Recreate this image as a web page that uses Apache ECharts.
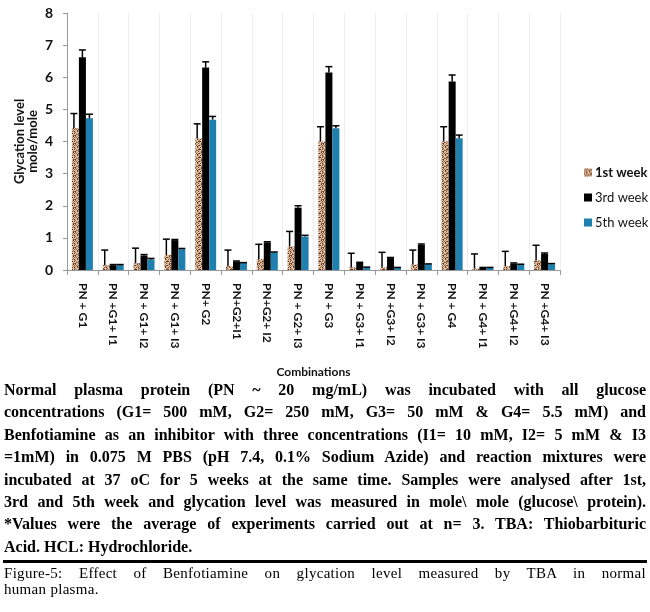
<!DOCTYPE html>
<html>
<head>
<meta charset="utf-8">
<script src="https://cdn.jsdelivr.net/npm/echarts@6/dist/echarts.min.js"></script>
<style>
  body { margin: 0; background: #fff; }
  #wrap { position: relative; width: 650px; height: 612px; overflow: hidden; }
  #chart { position: absolute; left: 0; top: 0; width: 650px; height: 612px; }
  .cap { position: absolute; left: 4px; width: 642px; font-family: "Liberation Serif", "DejaVu Serif", serif;
         color: #000; white-space: nowrap; }
  .cap div { text-align: justify; text-align-last: justify; }
  .cap div.last { text-align-last: left; }
  #notes { top: 379px; font-size: 16px; font-weight: bold; line-height: 22.4px; }
  #rule { position: absolute; left: 3px; width: 644px; top: 560px; height: 3px; background: #000; }
  #figcap { top: 565px; font-size: 15px; line-height: 16px; letter-spacing: 0.3px; }
</style>
</head>
<body>
<div id="wrap">
  <div id="chart"></div>
  <div class="cap" id="notes"></div>
  <div id="rule"></div>
  <div class="cap" id="figcap"></div>
</div>
<script>
// combinations on the x axis
const categories = [
  'PN + G1', 'PN +G1+ I1', 'PN + G1+ I2', 'PN + G1+ I3',
  'PN+ G2', 'PN+G2+I1', 'PN+G2+ I2', 'PN + G2+ I3',
  'PN + G3', 'PN + G3+ I1', 'PN +G3+ I2', 'PN + G3+ I3',
  'PN + G4', 'PN + G4+ I1', 'PN +G4+ I2', 'PN +G4+ I3'
];
const yTicks = [0, 1, 2, 3, 4, 5, 6, 7, 8];

// glycation level, mole/mole
const week1 = [4.42, 0.15, 0.21, 0.47, 4.10, 0.12, 0.34, 0.73, 4.00, 0.08, 0.08, 0.17, 4.00, 0.05, 0.12, 0.30];
const week3 = [6.62, 0.15, 0.45, 0.93, 6.30, 0.26, 0.86, 1.94, 6.15, 0.22, 0.37, 0.78, 5.87, 0.07, 0.20, 0.50];
const week5 = [4.72, 0.15, 0.33, 0.65, 4.68, 0.22, 0.54, 1.04, 4.41, 0.08, 0.07, 0.18, 4.10, 0.07, 0.17, 0.18];

// upper error bars
const err1 = [0.45, 0.47, 0.47, 0.49, 0.45, 0.50, 0.46, 0.47, 0.46, 0.44, 0.47, 0.45, 0.46, 0.45, 0.46, 0.47];
const err3 = [0.23, 0.02, 0.03, 0.02, 0.18, 0.02, 0.02, 0.06, 0.18, 0.02, 0.02, 0.03, 0.20, 0.01, 0.02, 0.03];
const err5 = [0.13, 0.02, 0.03, 0.02, 0.10, 0.01, 0.02, 0.04, 0.08, 0.01, 0.01, 0.01, 0.10, 0.01, 0.01, 0.02];

const seriesNames = ['1st week', '3rd week', '5th week'];

const noteLines = [
  'Normal plasma protein (PN ~ 20 mg/mL) was incubated with all glucose',
  'concentrations (G1= 500 mM, G2= 250 mM, G3= 50 mM & G4= 5.5 mM) and',
  'Benfotiamine as an inhibitor with three concentrations (I1= 10 mM, I2= 5 mM & I3',
  '=1mM) in 0.075 M PBS (pH 7.4, 0.1% Sodium Azide) and reaction mixtures were',
  'incubated at 37 oC for 5 weeks at the same time. Samples were analysed after 1st,',
  '3rd and 5th week and glycation level was measured in mole\\ mole (glucose\\ protein).',
  '*Values were the average of experiments carried out at n= 3. TBA: Thiobarbituric',
  'Acid. HCL: Hydrochloride.'
];
const figLines = [
  'Figure-5: Effect of Benfotiamine on glycation level measured by TBA in normal',
  'human plasma.'
];

function fillLines(id, lines) {
  const box = document.getElementById(id);
  lines.forEach((t, i) => {
    const d = document.createElement('div');
    d.textContent = t;
    if (i === lines.length - 1) d.className = 'last';
    box.appendChild(d);
  });
}
fillLines('notes', noteLines);
fillLines('figcap', figLines);

// mottled fill for the 1st week bars
function speckle() {
  const cols = ['#d6bf9c', '#7d4a2e', '#6a1f16', '#b98d66', '#e6d3c2', '#9c6a48'];
  const grid = [
    [0, 2, 4, 1, 0, 3, 4, 0],
    [3, 0, 1, 4, 5, 0, 1, 2],
    [4, 5, 0, 3, 0, 2, 0, 4],
    [1, 0, 2, 0, 4, 1, 3, 0],
    [0, 4, 3, 5, 0, 4, 0, 5],
    [2, 0, 1, 0, 3, 0, 2, 1],
    [4, 3, 0, 4, 1, 5, 0, 3],
    [0, 1, 5, 2, 0, 4, 1, 0]
  ];
  const c = document.createElement('canvas');
  c.width = 8; c.height = 8;
  const ctx = c.getContext('2d');
  grid.forEach((row, y) => row.forEach((k, x) => {
    ctx.fillStyle = cols[k];
    ctx.fillRect(x, y, 1, 1);
  }));
  return c;
}

const barW = 7;
const colors = [{ image: speckle(), repeat: 'repeat' }, '#000000', '#1f7fae'];
const values = [week1, week3, week5];
const errors = [err1, err3, err5];

function errorSeries(s) {
  return {
    type: 'custom',
    name: 'err' + s,
    z: 5,
    data: values[s].map((v, i) => [i, v, errors[s][i]]),
    renderItem: (params, api) => {
      const i = api.value(0);
      const v = api.value(1);
      const e = api.value(2);
      // 1st week whisker sits near the left of its bar
      const dx = (s - 1) * barW - (s === 0 ? 1.5 : 0);
      const p0 = api.coord([i, v]);
      const p1 = api.coord([i, v + e]);
      const x = p0[0] + dx;
      return {
        type: 'group',
        children: [
          { type: 'line', shape: { x1: x, y1: p0[1], x2: x, y2: p1[1] }, style: { stroke: '#000', lineWidth: 1.5 } },
          { type: 'line', shape: { x1: x - 3.5, y1: p1[1], x2: x + 3.5, y2: p1[1] }, style: { stroke: '#000', lineWidth: 1.5 } }
        ]
      };
    }
  };
}

const chart = echarts.init(document.getElementById('chart'));
chart.setOption({
  backgroundColor: '#fff',
  animation: false,
  grid: { left: 67, right: 90, top: 13, bottom: 342 },
  legend: {
    orient: 'vertical',
    left: 579,
    top: 161,
    itemWidth: 8,
    itemHeight: 8,
    itemGap: 12,
    icon: 'rect',
    textStyle: { fontFamily: 'Lato', fontSize: 13, color: '#111', padding: [0, 0, 0, -2] },
    data: [
      { name: seriesNames[0], textStyle: { fontWeight: 'bold' } },
      seriesNames[1],
      seriesNames[2]
    ]
  },
  xAxis: {
    type: 'category',
    data: categories,
    name: 'Combinations',
    nameLocation: 'middle',
    nameGap: 96,
    nameTextStyle: { fontFamily: 'Lato', fontWeight: 'bold', fontSize: 12, color: '#111' },
    axisLine: { lineStyle: { color: '#999' } },
    axisTick: { show: true, length: 5, lineStyle: { color: '#999' } },
    axisLabel: { rotate: -90, margin: 13, interval: 0, fontFamily: 'Lato', fontWeight: 'bold', fontSize: 12, color: '#111' },
    splitLine: { show: true, lineStyle: { color: '#eeeeee' } }
  },
  yAxis: {
    type: 'value',
    min: yTicks[0],
    max: yTicks[yTicks.length - 1],
    interval: 1,
    name: 'Glycation level\nmole/mole',
    nameLocation: 'middle',
    nameGap: 28,
    nameMoveOverlap: false,
    nameRotate: 90,
    nameTextStyle: { fontFamily: 'Lato', fontWeight: 'bold', fontSize: 13, color: '#111', lineHeight: 13 },
    axisLine: { show: true, lineStyle: { color: '#999' } },
    axisTick: { show: true, length: 4, lineStyle: { color: '#999' } },
    axisLabel: { margin: 14, fontFamily: 'Lato', fontWeight: 'bold', fontSize: 14, color: '#111' },
    splitLine: { show: false }
  },
  series: [
    ...seriesNames.map((n, s) => ({
      type: 'bar',
      name: n,
      data: values[s],
      barWidth: barW,
      barGap: '0%',
      itemStyle: { color: colors[s] }
    })),
    errorSeries(0),
    errorSeries(1),
    errorSeries(2)
  ]
});
</script>
</body>
</html>
